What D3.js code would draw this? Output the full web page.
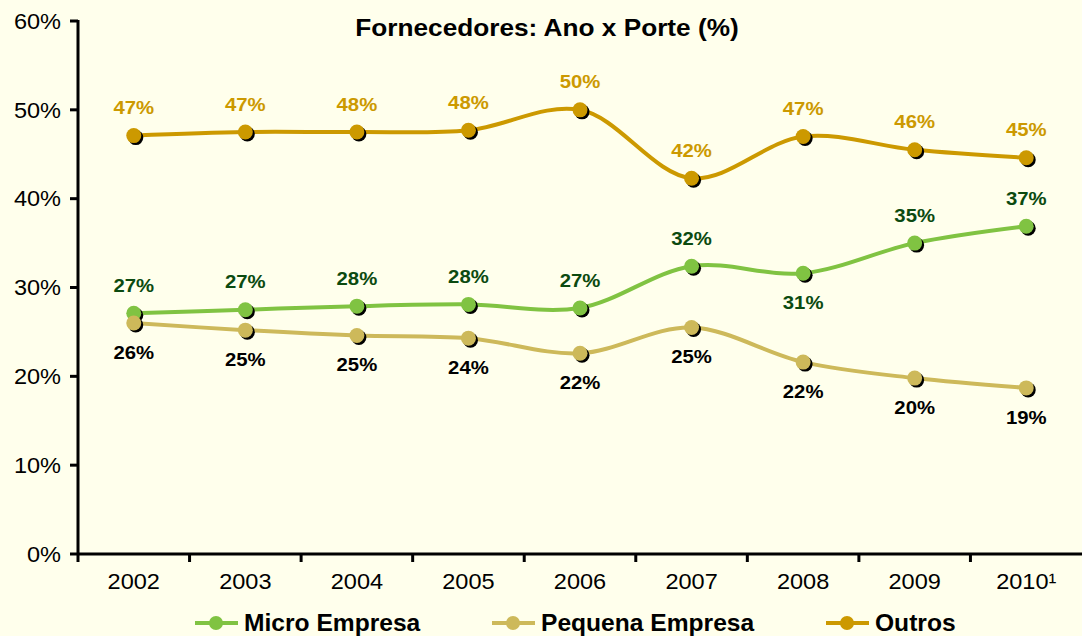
<!DOCTYPE html>
<html>
<head>
<meta charset="utf-8">
<script src="https://cdn.jsdelivr.net/npm/d3@7"></script>
<style>
  html, body { margin: 0; padding: 0; background: #ffffec; }
  svg { display: block; font-family: 'Liberation Sans', Arial, sans-serif; }
</style>
</head>
<body>
<div id="chart"></div>
<script>
'use strict';

const years = ['2002', '2003', '2004', '2005', '2006', '2007', '2008', '2009', '2010\u00b9'];
const microValues = [27.1, 27.5, 27.9, 28.1, 27.7, 32.4, 31.6, 35.0, 36.9];
const microLabels = ['27%', '27%', '28%', '28%', '27%', '32%', '31%', '35%', '37%'];
const microBelow = [false, false, false, false, false, false, true, false, false];
const pequenaValues = [26.0, 25.2, 24.6, 24.3, 22.6, 25.5, 21.6, 19.8, 18.7];
const pequenaLabels = ['26%', '25%', '25%', '24%', '22%', '25%', '22%', '20%', '19%'];
const outrosValues = [47.1, 47.5, 47.5, 47.7, 50.0, 42.3, 47.0, 45.5, 44.6];
const outrosLabels = ['47%', '47%', '48%', '48%', '50%', '42%', '47%', '46%', '45%'];
const yTicks = [0, 10, 20, 30, 40, 50, 60];

const width = 1082;
const height = 636;
const margin = { top: 21, right: 0, bottom: 82, left: 78 };
const sx = 1.07; // text in the original is a bit wide

const series = [
  { name: 'Micro Empresa', values: microValues, labels: microLabels,
    below: microBelow, color: '#80c342', labelColor: '#0b4a10' },
  { name: 'Pequena Empresa', values: pequenaValues, labels: pequenaLabels,
    below: years.map(() => true), color: '#cdb95a', labelColor: '#000000' },
  { name: 'Outros', values: outrosValues, labels: outrosLabels,
    below: years.map(() => false), color: '#cc9900', labelColor: '#cc9900' },
];

const svg = d3.select('#chart')
  .append('svg')
  .attr('width', width)
  .attr('height', height);

svg.append('rect')
  .attr('width', width)
  .attr('height', height)
  .attr('fill', '#ffffec');

const x = d3.scaleBand()
  .domain(years)
  .range([margin.left, width - margin.right])
  .padding(0);

const y = d3.scaleLinear()
  .domain([0, 60])
  .range([height - margin.bottom, margin.top]);

const cx = (i) => x(years[i]) + x.bandwidth() / 2;

// text helper: stretched horizontally around its anchor
const addText = (g, tx, ty, str, size, weight, fill, anchor) => g.append('text')
  .attr('transform', `translate(${tx},${ty}) scale(${sx},1)`)
  .attr('text-anchor', anchor || 'middle')
  .attr('dy', '0.35em')
  .attr('font-size', size)
  .attr('font-weight', weight)
  .attr('fill', fill)
  .text(str);

// y axis
const yAxis = svg.append('g');
yAxis.append('line')
  .attr('x1', margin.left).attr('x2', margin.left)
  .attr('y1', y(60) - 1).attr('y2', y(0) + 1)
  .attr('stroke', '#000').attr('stroke-width', 3);
yTicks.forEach((t) => {
  yAxis.append('line')
    .attr('x1', margin.left - 8).attr('x2', margin.left)
    .attr('y1', y(t)).attr('y2', y(t))
    .attr('stroke', '#000').attr('stroke-width', 3);
  addText(yAxis, margin.left - 17, y(t), `${t}%`, 22, 'normal', '#000', 'end');
});

// x axis
const xAxis = svg.append('g');
xAxis.append('line')
  .attr('x1', margin.left).attr('x2', width)
  .attr('y1', y(0)).attr('y2', y(0))
  .attr('stroke', '#000').attr('stroke-width', 3);
years.forEach((yr, i) => {
  xAxis.append('line')
    .attr('x1', x(yr)).attr('x2', x(yr))
    .attr('y1', y(0)).attr('y2', y(0) + 8)
    .attr('stroke', '#000').attr('stroke-width', 3);
  addText(xAxis, cx(i), y(0) + 27, yr, 22, 'normal', '#000');
});

// lines
const line = d3.line()
  .x((d, i) => cx(i))
  .y((d) => y(d))
  .curve(d3.curveCatmullRom.alpha(0.5));

series.forEach((s) => {
  const g = svg.append('g');
  g.append('path')
    .datum(s.values)
    .attr('d', line)
    .attr('fill', 'none')
    .attr('stroke', s.color)
    .attr('stroke-width', 4);
  g.selectAll('circle.shadow')
    .data(s.values)
    .join('circle')
    .attr('class', 'shadow')
    .attr('cx', (d, i) => cx(i) + 2)
    .attr('cy', (d) => y(d) + 2)
    .attr('r', 7.5)
    .attr('fill', '#000');
  g.selectAll('circle.dot')
    .data(s.values)
    .join('circle')
    .attr('class', 'dot')
    .attr('cx', (d, i) => cx(i))
    .attr('cy', (d) => y(d))
    .attr('r', 7.5)
    .attr('fill', s.color);
});

// data labels
series.forEach((s) => {
  const g = svg.append('g');
  s.values.forEach((v, i) => {
    const off = s.below[i] ? 29 : -28;
    addText(g, cx(i), y(v) + off, s.labels[i], 19, 'bold', s.labelColor);
  });
});

// title
addText(svg, 547, 27, 'Fornecedores: Ano x Porte (%)', 24.5, 'bold', '#000');

// legend
const legendX = [195, 492, 826];
const legend = svg.append('g');
series.forEach((s, i) => {
  const lx = legendX[i];
  const ly = 623;
  legend.append('line')
    .attr('x1', lx).attr('x2', lx + 43)
    .attr('y1', ly).attr('y2', ly)
    .attr('stroke', s.color).attr('stroke-width', 4);
  legend.append('circle')
    .attr('cx', lx + 21).attr('cy', ly).attr('r', 7)
    .attr('fill', s.color);
  addText(legend, lx + 49, ly, s.name, 23, 'bold', '#000', 'start');
});
</script>
</body>
</html>
